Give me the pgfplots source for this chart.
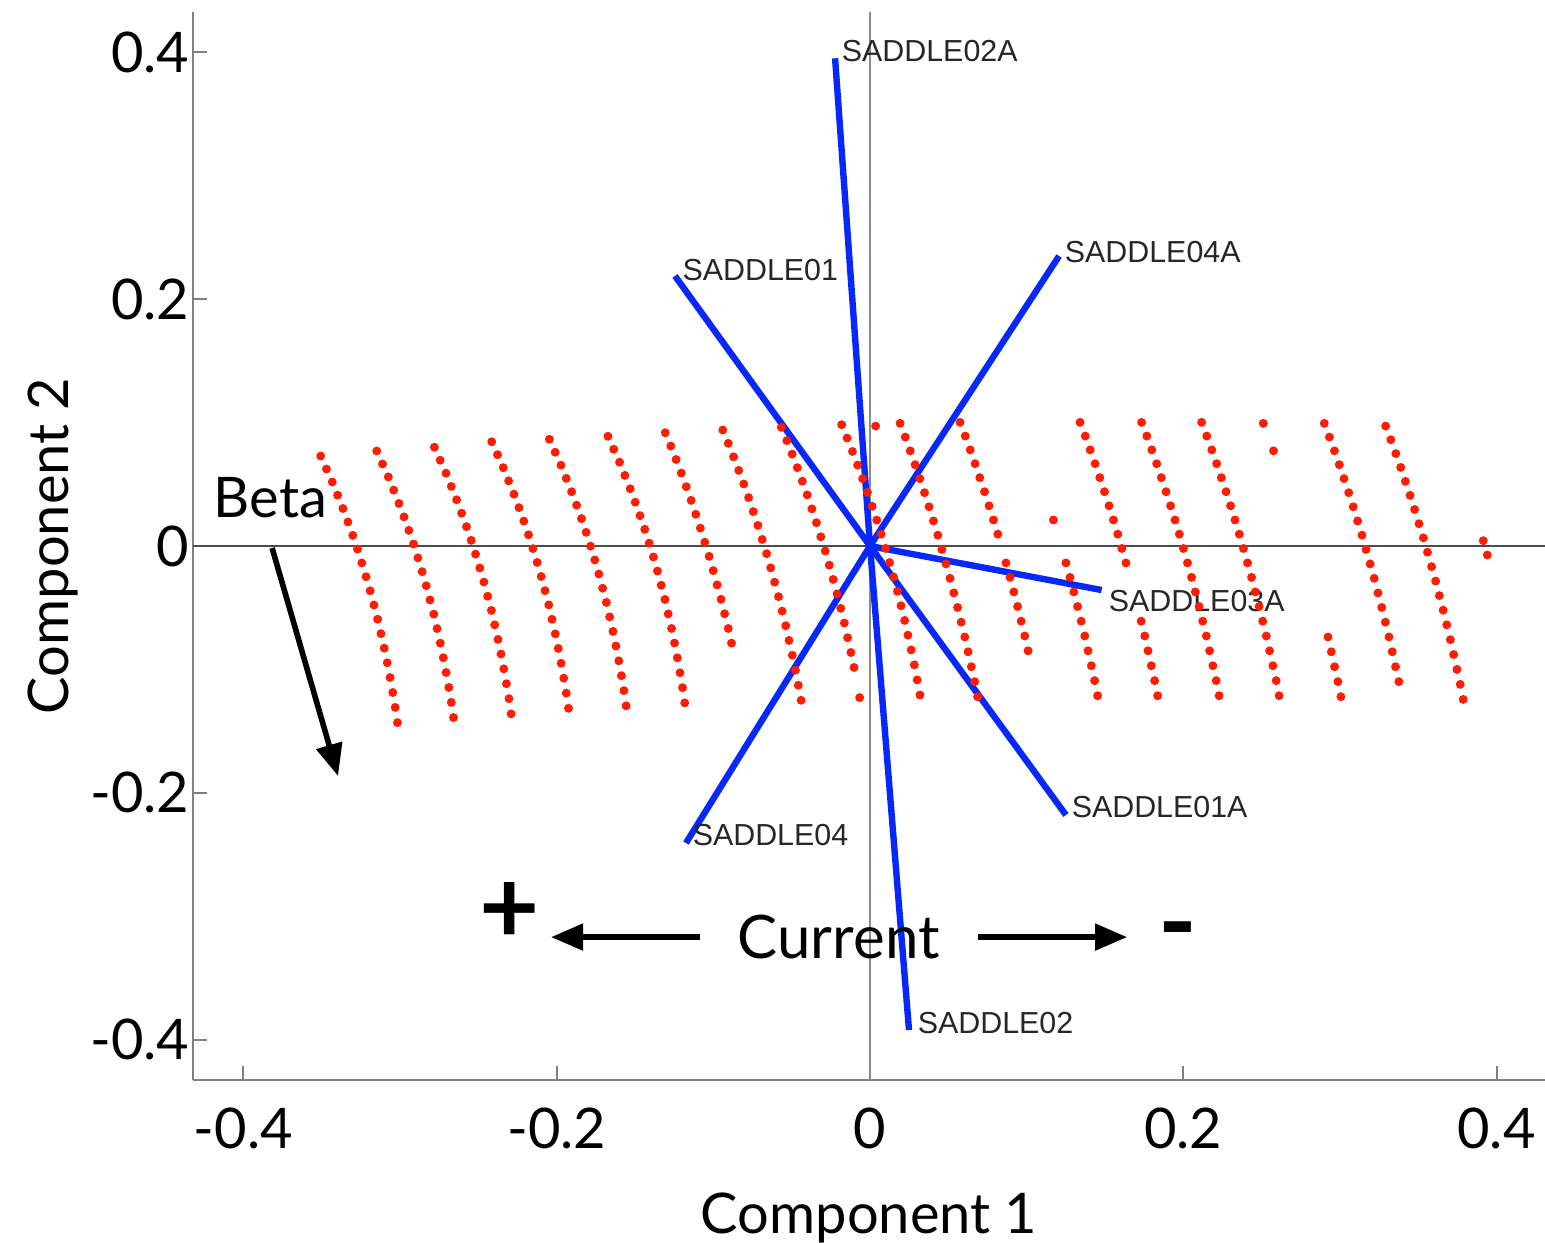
\documentclass[border=0pt]{standalone}
\usepackage{fontspec}
\setmainfont{Lato}
\newfontfamily\saddlefont{Liberation Sans}
\usepackage{pgfplots}
\pgfplotsset{compat=1.18}
\usetikzlibrary{arrows.meta}

\definecolor{scorered}{RGB}{255,28,0}
\definecolor{loadblue}{RGB}{8,40,250}

\pgfplotsset{
  scores/.style={only marks, mark=*, mark size=0.9pt, color=scorered, mark options={draw=none, fill=scorered}},
  loading/.style={loadblue, line width=1.6pt, no markers},
}
\tikzset{
  saddle/.style={font=\saddlefont\fontsize{7.6}{9}\selectfont, text=black!85, inner sep=0pt, anchor=base west},
}

\begin{document}
\begin{tikzpicture}
\begin{axis}[
  at={(0,0)}, anchor=south west,
  scale only axis, width=337.92pt, height=267.08pt,
  xmin=-0.4320, xmax=0.4309, ymin=-0.4327, ymax=0.4330,
  axis x line*=bottom, axis y line*=left,
  axis line style={black!50, line width=0.5pt, -},
  tick align=inside, major tick length=3.5pt,
  major tick style={black!50, line width=0.5pt},
  xtick={-0.4,-0.2,0,0.2,0.4}, xticklabels={-0.4,-0.2,0,0.2,0.4},
  ytick={-0.4,-0.2,0,0.2,0.4}, yticklabels={-0.4,-0.2,0,0.2,0.4},
  ticklabel style={font=\fontsize{14}{16}\selectfont, text=black},
  xticklabel style={yshift=-3.5pt},
  yticklabel style={xshift=2.5pt},
  xlabel={Component 1}, ylabel={Component 2},
  every axis x label/.style={at={([yshift=-38.25pt]axis description cs:0.5,0)}, anchor=base, font=\fontsize{14}{16}\selectfont},
  every axis y label/.style={at={([xshift=-31.25pt]axis description cs:0,0.5)}, rotate=90, anchor=base, font=\fontsize{14}{16}\selectfont},
]

% reference lines through the origin
\draw[black!70, line width=0.45pt] (axis cs:-0.4320,0) -- (axis cs:0.4309,0);
\draw[black!45, line width=0.45pt] (axis cs:0,-0.4327) -- (axis cs:0,0.4330);

% variable loadings
\addplot[loading] coordinates {(0,0) (-0.0223,0.3952)};
\addplot[loading] coordinates {(0,0) (-0.1245,0.2188)};
\addplot[loading] coordinates {(0,0) (0.1207,0.2350)};
\addplot[loading] coordinates {(0,0) (0.1479,-0.0357)};
\addplot[loading] coordinates {(0,0) (0.1251,-0.2180)};
\addplot[loading] coordinates {(0,0) (0.0249,-0.3922)};
\addplot[loading] coordinates {(0,0) (-0.1175,-0.2407)};

% observation scores
\addplot[scores] coordinates {(-0.3507,0.0729) (-0.3470,0.0624) (-0.3433,0.0519) (-0.3399,0.0412) (-0.3365,0.0304) (-0.3333,0.0195) (-0.3302,0.0086) (-0.3272,-0.0025) (-0.3244,-0.0137) (-0.3217,-0.0249) (-0.3191,-0.0363) (-0.3167,-0.0478) (-0.3143,-0.0593) (-0.3122,-0.0710) (-0.3101,-0.0828) (-0.3082,-0.0946) (-0.3064,-0.1066) (-0.3047,-0.1187) (-0.3031,-0.1308) (-0.3017,-0.1431)};
\addplot[scores] coordinates {(-0.3149,0.0770) (-0.3112,0.0665) (-0.3075,0.0560) (-0.3041,0.0453) (-0.3007,0.0345) (-0.2975,0.0236) (-0.2944,0.0127) (-0.2914,0.0016) (-0.2886,-0.0096) (-0.2859,-0.0208) (-0.2833,-0.0322) (-0.2809,-0.0437) (-0.2785,-0.0552) (-0.2764,-0.0669) (-0.2743,-0.0787) (-0.2724,-0.0905) (-0.2706,-0.1025) (-0.2689,-0.1146) (-0.2673,-0.1267) (-0.2659,-0.1390)};
\addplot[scores] coordinates {(-0.2781,0.0800) (-0.2744,0.0695) (-0.2707,0.0590) (-0.2673,0.0483) (-0.2639,0.0375) (-0.2607,0.0266) (-0.2576,0.0157) (-0.2546,0.0046) (-0.2518,-0.0066) (-0.2491,-0.0178) (-0.2465,-0.0292) (-0.2441,-0.0407) (-0.2417,-0.0522) (-0.2396,-0.0639) (-0.2375,-0.0757) (-0.2356,-0.0875) (-0.2338,-0.0995) (-0.2321,-0.1116) (-0.2305,-0.1237) (-0.2291,-0.1360)};
\addplot[scores] coordinates {(-0.2415,0.0845) (-0.2378,0.0740) (-0.2341,0.0635) (-0.2307,0.0528) (-0.2273,0.0420) (-0.2241,0.0311) (-0.2210,0.0202) (-0.2180,0.0091) (-0.2152,-0.0021) (-0.2125,-0.0133) (-0.2099,-0.0247) (-0.2075,-0.0362) (-0.2051,-0.0477) (-0.2030,-0.0594) (-0.2009,-0.0712) (-0.1990,-0.0830) (-0.1972,-0.0950) (-0.1955,-0.1071) (-0.1939,-0.1192) (-0.1925,-0.1315)};
\addplot[scores] coordinates {(-0.2047,0.0865) (-0.2010,0.0760) (-0.1973,0.0655) (-0.1939,0.0548) (-0.1905,0.0440) (-0.1873,0.0331) (-0.1842,0.0222) (-0.1812,0.0111) (-0.1784,-0.0001) (-0.1757,-0.0113) (-0.1731,-0.0227) (-0.1707,-0.0342) (-0.1683,-0.0457) (-0.1662,-0.0574) (-0.1641,-0.0692) (-0.1622,-0.0810) (-0.1604,-0.0930) (-0.1587,-0.1051) (-0.1571,-0.1172) (-0.1557,-0.1295)};
\addplot[scores] coordinates {(-0.1673,0.0889) (-0.1636,0.0784) (-0.1599,0.0679) (-0.1565,0.0572) (-0.1531,0.0464) (-0.1499,0.0355) (-0.1468,0.0246) (-0.1438,0.0135) (-0.1410,0.0023) (-0.1383,-0.0089) (-0.1357,-0.0203) (-0.1333,-0.0318) (-0.1309,-0.0433) (-0.1288,-0.0550) (-0.1267,-0.0668) (-0.1248,-0.0786) (-0.1230,-0.0906) (-0.1213,-0.1027) (-0.1197,-0.1148) (-0.1183,-0.1271)};
\addplot[scores] coordinates {(-0.1307,0.0918) (-0.1272,0.0810) (-0.1238,0.0701) (-0.1205,0.0591) (-0.1173,0.0481) (-0.1142,0.0370) (-0.1112,0.0257) (-0.1083,0.0145) (-0.1055,0.0031) (-0.1027,-0.0084) (-0.1001,-0.0199) (-0.0976,-0.0315) (-0.0951,-0.0432) (-0.0928,-0.0549) (-0.0905,-0.0668) (-0.0884,-0.0787)};
\addplot[scores] coordinates {(-0.0940,0.0940) (-0.0905,0.0832) (-0.0871,0.0723) (-0.0838,0.0613) (-0.0806,0.0503) (-0.0775,0.0392) (-0.0745,0.0279) (-0.0716,0.0167) (-0.0688,0.0053) (-0.0660,-0.0062) (-0.0634,-0.0177) (-0.0609,-0.0293) (-0.0584,-0.0410) (-0.0561,-0.0527) (-0.0538,-0.0646) (-0.0517,-0.0765) (-0.0496,-0.0885) (-0.0476,-0.1006) (-0.0458,-0.1128) (-0.0440,-0.1250)};
\addplot[scores] coordinates {(-0.0566,0.0962) (-0.0531,0.0854) (-0.0497,0.0745) (-0.0464,0.0635) (-0.0432,0.0525) (-0.0401,0.0414) (-0.0371,0.0301) (-0.0342,0.0189) (-0.0314,0.0075) (-0.0286,-0.0040) (-0.0260,-0.0155) (-0.0235,-0.0271) (-0.0210,-0.0388) (-0.0187,-0.0505) (-0.0164,-0.0624) (-0.0143,-0.0743) (-0.0122,-0.0863) (-0.0102,-0.0984) (-0.0066,-0.1228)};
\addplot[scores] coordinates {(-0.0181,0.0983) (-0.0146,0.0875) (-0.0112,0.0766) (-0.0079,0.0656) (-0.0047,0.0546) (-0.0016,0.0435) (0.0014,0.0322) (0.0043,0.0210) (0.0071,0.0096) (0.0099,-0.0019) (0.0125,-0.0134) (0.0150,-0.0250) (0.0175,-0.0367) (0.0198,-0.0484) (0.0221,-0.0603) (0.0242,-0.0722) (0.0263,-0.0842) (0.0283,-0.0963) (0.0301,-0.1085) (0.0319,-0.1207) (0.0036,0.0972)};
\addplot[scores] coordinates {(0.0192,0.0994) (0.0225,0.0883) (0.0257,0.0771) (0.0288,0.0659) (0.0318,0.0546) (0.0348,0.0432) (0.0377,0.0318) (0.0405,0.0203) (0.0433,0.0088) (0.0459,-0.0028) (0.0485,-0.0145) (0.0511,-0.0262) (0.0535,-0.0380) (0.0559,-0.0498) (0.0582,-0.0617) (0.0605,-0.0737) (0.0626,-0.0857) (0.0647,-0.0978) (0.0668,-0.1099) (0.0687,-0.1221)};
\addplot[scores] coordinates {(0.0575,0.1002) (0.0608,0.0891) (0.0640,0.0779) (0.0671,0.0667) (0.0701,0.0554) (0.0731,0.0440) (0.0760,0.0326) (0.0788,0.0211) (0.0816,0.0096) (0.0868,-0.0137) (0.0894,-0.0254) (0.0918,-0.0372) (0.0942,-0.0490) (0.0965,-0.0609) (0.0988,-0.0729) (0.1009,-0.0849)};
\addplot[scores] coordinates {(0.1171,0.0211) (0.1251,-0.0137) (0.1277,-0.0254) (0.1301,-0.0372) (0.1325,-0.0490) (0.1348,-0.0609) (0.1371,-0.0729) (0.1392,-0.0849) (0.1413,-0.0970) (0.1434,-0.1091) (0.1453,-0.1213)};
\addplot[scores] coordinates {(0.1341,0.1002) (0.1374,0.0891) (0.1406,0.0779) (0.1437,0.0667) (0.1467,0.0554) (0.1497,0.0440) (0.1526,0.0326) (0.1554,0.0211) (0.1582,0.0096) (0.1608,-0.0020) (0.1634,-0.0137) (0.1731,-0.0609) (0.1754,-0.0729) (0.1775,-0.0849) (0.1796,-0.0970) (0.1817,-0.1091) (0.1836,-0.1213)};
\addplot[scores] coordinates {(0.1734,0.1002) (0.1767,0.0891) (0.1799,0.0779) (0.1830,0.0667) (0.1860,0.0554) (0.1890,0.0440) (0.1919,0.0326) (0.1947,0.0211) (0.1975,0.0096) (0.2001,-0.0020) (0.2027,-0.0137) (0.2053,-0.0254) (0.2077,-0.0372) (0.2101,-0.0490) (0.2124,-0.0609) (0.2147,-0.0729) (0.2168,-0.0849) (0.2189,-0.0970) (0.2210,-0.1091) (0.2229,-0.1213)};
\addplot[scores] coordinates {(0.2117,0.1002) (0.2150,0.0891) (0.2182,0.0779) (0.2213,0.0667) (0.2243,0.0554) (0.2273,0.0440) (0.2302,0.0326) (0.2330,0.0211) (0.2358,0.0096) (0.2384,-0.0020) (0.2410,-0.0137) (0.2436,-0.0254) (0.2460,-0.0372) (0.2484,-0.0490) (0.2507,-0.0609) (0.2530,-0.0729) (0.2551,-0.0849) (0.2572,-0.0970) (0.2593,-0.1091) (0.2612,-0.1213)};
\addplot[scores] coordinates {(0.2511,0.0994) (0.2576,0.0771) (0.2924,-0.0737) (0.2945,-0.0857) (0.2966,-0.0978) (0.2987,-0.1099) (0.3006,-0.1221)};
\addplot[scores] coordinates {(0.2900,0.0994) (0.2933,0.0883) (0.2965,0.0771) (0.2996,0.0659) (0.3026,0.0546) (0.3056,0.0432) (0.3085,0.0318) (0.3113,0.0203) (0.3141,0.0088) (0.3167,-0.0028) (0.3193,-0.0145) (0.3219,-0.0262) (0.3243,-0.0380) (0.3267,-0.0498) (0.3290,-0.0617) (0.3313,-0.0737) (0.3334,-0.0857) (0.3355,-0.0978) (0.3376,-0.1099)};
\addplot[scores] coordinates {(0.3292,0.0972) (0.3325,0.0861) (0.3357,0.0749) (0.3388,0.0637) (0.3418,0.0524) (0.3448,0.0410) (0.3477,0.0296) (0.3505,0.0181) (0.3533,0.0066) (0.3559,-0.0050) (0.3585,-0.0167) (0.3611,-0.0284) (0.3635,-0.0402) (0.3659,-0.0520) (0.3682,-0.0639) (0.3705,-0.0759) (0.3726,-0.0879) (0.3747,-0.1000) (0.3768,-0.1121) (0.3787,-0.1243)};
\addplot[scores] coordinates {(0.3915,0.0043) (0.3941,-0.0073)};

% loading labels
\node[saddle, xshift=1.5pt,  yshift=-0.9pt] at (axis cs:-0.0223,0.3952) {SADDLE02A};
\node[saddle, xshift=1.7pt,  yshift=-1.2pt] at (axis cs:-0.1245,0.2188) {SADDLE01};
\node[saddle, xshift=1.25pt, yshift=-1.5pt] at (axis cs:0.1207,0.2350) {SADDLE04A};
\node[saddle, xshift=1.6pt,  yshift=-5.4pt] at (axis cs:0.1479,-0.0357) {SADDLE03A};
\node[saddle, xshift=1.25pt, yshift=-0.5pt] at (axis cs:0.1251,-0.2180) {SADDLE01A};
\node[saddle, xshift=1.5pt,  yshift=-0.5pt] at (axis cs:-0.1175,-0.2407) {SADDLE04};
\node[saddle, xshift=2pt,    yshift=-0.75pt] at (axis cs:0.0249,-0.3922) {SADDLE02};

% direction annotations
\node[anchor=base west, inner sep=0pt, font=\fontsize{14}{16}\selectfont] at (axis cs:-0.4194,0.0227) {Beta};
\draw[-{Triangle[length=8pt,width=6.5pt]}, line width=1.4pt] (axis cs:-0.3817,-0.0016) -- (axis cs:-0.3396,-0.1864);
\node[anchor=base west, inner sep=0pt, font=\fontsize{15}{17}\selectfont] at (axis cs:-0.0849,-0.3339) {Current};
\draw[-{Triangle[length=8pt,width=6.5pt]}, line width=1.3pt] (axis cs:-0.1085,-0.3169) -- (axis cs:-0.2036,-0.3169);
\draw[-{Triangle[length=8pt,width=6.5pt]}, line width=1.3pt] (axis cs:0.0689,-0.3169) -- (axis cs:0.1641,-0.3169);
\node[inner sep=0pt, font=\fontsize{26}{28}\selectfont\bfseries] at (axis cs:-0.2298,-0.2974) {+};
\node[inner sep=0pt, yshift=-2.9pt, font=\fontsize{26}{28}\selectfont\bfseries] at (axis cs:0.1966,-0.3096) {-};
\end{axis}
\pgfresetboundingbox
\path[use as bounding box] (-48.33pt,-40.75pt) rectangle (337.92pt,270pt);
\end{tikzpicture}
\end{document}
